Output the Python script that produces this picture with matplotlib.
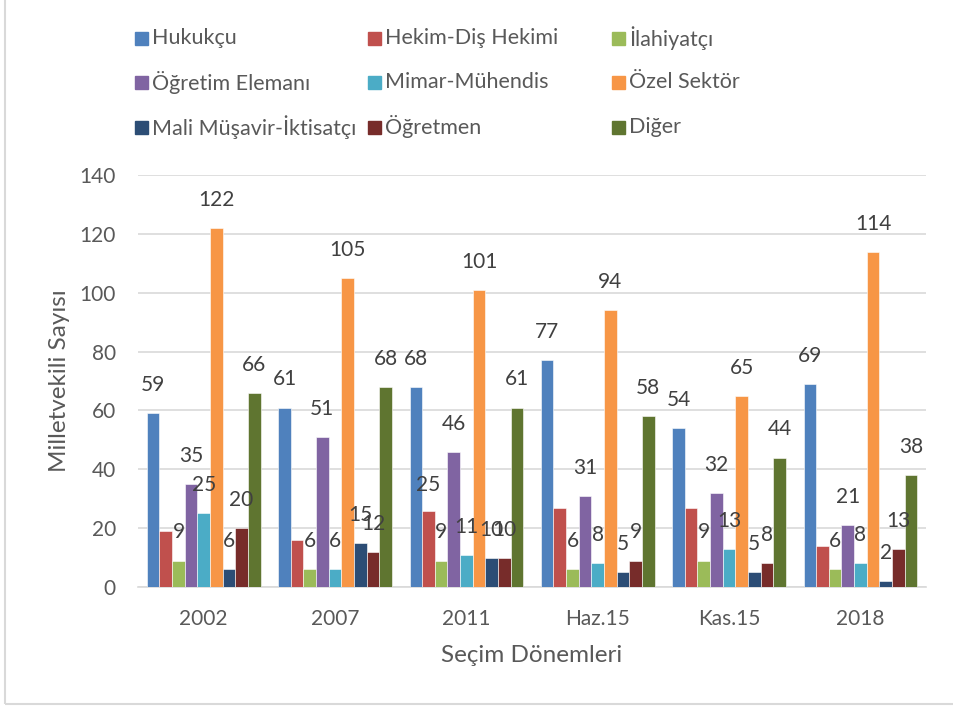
import matplotlib.pyplot as plt
from matplotlib.patches import Rectangle
import numpy as np

plt.rcParams['font.family'] = ['Lato', 'DejaVu Sans']

# Data

periods = ['2002', '2007', '2011', 'Haz.15', 'Kas.15', '2018']
series = ['Hukukçu', 'Hekim-Diş Hekimi', 'İlahiyatçı',
          'Öğretim Elemanı', 'Mimar-Mühendis', 'Özel Sektör',
          'Mali Müşavir-İktisatçı', 'Öğretmen', 'Diğer']

hukukcu = [59, 61, 68, 77, 54, 69]
hekim = [19, 16, 26, 27, 27, 14]
ilahiyatci = [9, 6, 9, 6, 9, 6]
ogretim_elemani = [35, 51, 46, 31, 32, 21]
mimar = [25, 6, 11, 8, 13, 8]
ozel_sektor = [122, 105, 101, 94, 65, 114]
mali_musavir = [6, 15, 10, 5, 5, 2]
ogretmen = [20, 12, 10, 9, 8, 13]
diger = [66, 68, 61, 58, 44, 38]

# data labels as shown (Hekim labels mostly missing in the original)
hekim_labels = [None, None, 25, None, None, None]

values = [hukukcu, hekim, ilahiyatci, ogretim_elemani, mimar,
          ozel_sektor, mali_musavir, ogretmen, diger]
labels = [hukukcu, hekim_labels, ilahiyatci, ogretim_elemani, mimar,
          ozel_sektor, mali_musavir, ogretmen, diger]

colors = ['#4F81BD', '#C0504D', '#9BBB59', '#8064A2', '#4BACC6',
          '#F79646', '#2C4D75', '#772C2A', '#5F7530']

fig = plt.figure(figsize=(9.54, 7.07), dpi=100)
ax = fig.add_axes([0.1447, 0.1697, 0.826, 0.5827])

x = np.arange(len(periods))
w = 0.0962
n = len(series)
for i in range(n):
    pos = x + (i - (n - 1) / 2) * w
    bars = ax.bar(pos, values[i], w, color=colors[i],
                  edgecolor='white', linewidth=0.4, zorder=3)
    for j, b in enumerate(bars):
        lab = labels[i][j]
        if lab is None:
            continue
        ax.annotate(str(lab), (b.get_x() + w / 2, lab),
                    xytext=(0, 13), textcoords='offset points',
                    ha='center', va='bottom', fontsize=15,
                    color='#404040', zorder=4)

ax.set_xlim(-0.5, len(periods) - 0.5)
ax.set_ylim(0, 140)
ax.set_yticks(range(0, 141, 20))
ax.set_xticks(x)
ax.set_xticklabels(periods)
ax.tick_params(length=0, labelsize=15, labelcolor='#595959')
ax.tick_params(axis='y', pad=16)
ax.tick_params(axis='x', pad=16)
ax.grid(axis='y', color='#D9D9D9', linewidth=1.2, zorder=0)
for s in ['top', 'right', 'left']:
    ax.spines[s].set_visible(False)
ax.spines['bottom'].set_color('#D9D9D9')
ax.spines['bottom'].set_linewidth(1.2)

ax.set_ylabel('Milletvekili Sayısı', fontsize=17.5, color='#595959', labelpad=7)
ax.set_xlabel('Seçim Dönemleri', fontsize=17.5, color='#595959', labelpad=11)

# legend, three columns like the original
col_x = [135, 368, 612]
row_y = [38, 82, 127]
W, H = 954, 707
for i, name in enumerate(series):
    cx = col_x[i % 3]
    cy = row_y[i // 3]
    fig.patches.append(Rectangle(((cx) / W, 1 - (cy + 6.5) / H), 13 / W, 13 / H,
                                 transform=fig.transFigure, color=colors[i]))
    fig.text((cx + 17) / W, 1 - cy / H, name, fontsize=15.5,
             color='#595959', va='center', ha='left')

# chart frame
fig.patches.append(Rectangle((5 / W, 3 / H), 1.0, 1.0, transform=fig.transFigure,
                             fill=False, edgecolor='#D9D9D9', linewidth=1.5))

fig.savefig('out.png', dpi=100)
